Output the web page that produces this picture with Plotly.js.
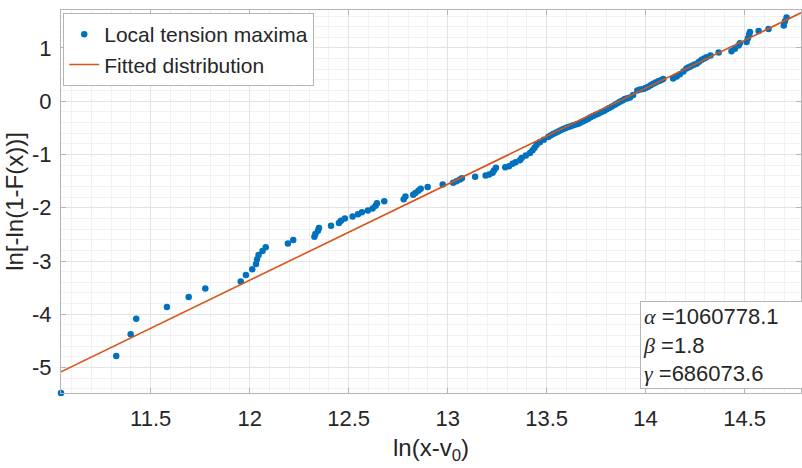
<!DOCTYPE html>
<html>
<head>
<meta charset="utf-8">
<script src="https://cdn.plot.ly/plotly-3.0.1.min.js"></script>
<style>
  html, body { margin: 0; padding: 0; background: #ffffff; }
  #chart { width: 802px; height: 468px; }
</style>
</head>
<body>
<div id="chart"></div>
<script>
// Observed points: x = ln(x - v0), y = ln[-ln(1-F(x))]
var obsX = [
  11.047, 11.326, 11.399, 11.427, 11.582, 11.692, 11.776, 11.955, 11.981, 12.013,
  12.032, 12.037, 12.045, 12.065, 12.081, 12.193, 12.220, 12.327, 12.332, 12.345,
  12.350, 12.411, 12.451, 12.461, 12.481, 12.520, 12.547, 12.567, 12.597, 12.621,
  12.636, 12.643, 12.680, 12.778, 12.787, 12.826, 12.837, 12.852, 12.864, 12.899,
  12.975, 13.028, 13.045, 13.062, 13.072, 13.139, 13.192, 13.210, 13.227, 13.234,
  13.244, 13.291, 13.310, 13.328, 13.343, 13.365, 13.374, 13.395, 13.416, 13.429,
  13.439, 13.449, 13.466, 13.486, 13.508, 13.520, 13.533, 13.546, 13.559, 13.571,
  13.584, 13.597, 13.609, 13.622, 13.634, 13.647, 13.660, 13.672, 13.685, 13.698,
  13.710, 13.722, 13.735, 13.748, 13.761, 13.775, 13.789, 13.802, 13.816, 13.830,
  13.845, 13.858, 13.870, 13.883, 13.895, 13.908, 13.921, 13.937, 13.958, 13.972,
  13.988, 14.000, 14.013, 14.026, 14.038, 14.051, 14.064, 14.077, 14.089, 14.139,
  14.157, 14.173, 14.191, 14.206, 14.218, 14.229, 14.244, 14.258, 14.270, 14.283,
  14.296, 14.308, 14.328, 14.369, 14.434, 14.451, 14.470, 14.476, 14.510, 14.517,
  14.523, 14.527, 14.571, 14.621, 14.698, 14.704, 14.712
];
var obsY = [
  -5.478, -4.785, -4.373, -4.086, -3.861, -3.674, -3.517, -3.386, -3.262, -3.155,
  -3.056, -2.968, -2.888, -2.813, -2.740, -2.672, -2.607, -2.543, -2.491, -2.434,
  -2.382, -2.337, -2.288, -2.243, -2.200, -2.163, -2.120, -2.082, -2.051, -2.013,
  -1.963, -1.914, -1.876, -1.839, -1.788, -1.757, -1.723, -1.682, -1.644, -1.610,
  -1.564, -1.532, -1.502, -1.470, -1.446, -1.419, -1.395, -1.376, -1.345, -1.301,
  -1.251, -1.240, -1.221, -1.176, -1.146, -1.109, -1.064, -1.021, -0.970, -0.921,
  -0.871, -0.820, -0.772, -0.721, -0.670, -0.642, -0.614, -0.590, -0.566, -0.543,
  -0.521, -0.502, -0.483, -0.468, -0.453, -0.437, -0.421, -0.400, -0.378, -0.353,
  -0.328, -0.302, -0.277, -0.256, -0.234, -0.209, -0.184, -0.156, -0.127, -0.097,
  -0.066, -0.038, -0.009, 0.016, 0.041, 0.056, 0.071, 0.116, 0.202, 0.220,
  0.228, 0.250, 0.272, 0.300, 0.328, 0.352, 0.375, 0.396, 0.416, 0.425,
  0.464, 0.506, 0.558, 0.614, 0.637, 0.659, 0.683, 0.706, 0.742, 0.777,
  0.803, 0.828, 0.861, 0.914, 0.940, 0.987, 1.045, 1.090, 1.110, 1.183,
  1.255, 1.301, 1.320, 1.358, 1.423, 1.502, 1.573
];
// Fitted distribution line (end points)
var fitX = [11.047, 14.785];
var fitY = [-5.08, 1.66];
// Axis ticks
var xTicks = [11.5, 12, 12.5, 13, 13.5, 14, 14.5];
var xTickText = ['11.5', '12', '12.5', '13', '13.5', '14', '14.5'];
var yTicks = [-5, -4, -3, -2, -1, 0, 1];
var yTickText = ['-5', '-4', '-3', '-2', '-1', '0', '1'];
// Labels
var seriesNames = ['Local tension maxima', 'Fitted distribution'];
var paramSymbols = ['α', 'β', 'γ'];
var paramValues = ['=1060778.1', '=1.8', '=686073.6'];

var FONT = 'Liberation Sans, Arial, sans-serif';
var TXT = '#262626';
var AXC = '#b4b4b4';

var traces = [
  {
    x: obsX, y: obsY, type: 'scatter', mode: 'markers', name: seriesNames[0],
    marker: { color: '#0072BD', size: 6.5 },
    cliponaxis: false
  },
  {
    x: fitX, y: fitY, type: 'scatter', mode: 'lines', name: seriesNames[1],
    line: { color: '#D95319', width: 1.6 }
  }
];

function axisBase() {
  return {
    showline: true, linecolor: AXC, linewidth: 1, mirror: 'ticks',
    ticks: 'inside', ticklen: 5, tickcolor: AXC, tickwidth: 1,
    showgrid: true, gridcolor: '#e3e3e3', gridwidth: 1,
    zeroline: false,
    tickfont: { family: FONT, size: 22, color: TXT }
  };
}

var xa = axisBase();
xa.range = [11.047, 14.785];
xa.tickvals = xTicks; xa.ticktext = xTickText;
xa.minor = { dtick: 0.1, showgrid: true, gridcolor: '#f1f1f1', gridwidth: 1, ticks: '' };
xa.title = { text: 'ln(x-v<sub>0</sub>)', font: { family: FONT, size: 24, color: TXT }, standoff: 8 };
xa.ticklabelstandoff = 6;

var ya = axisBase();
ya.range = [-5.478, 1.713];
ya.tickvals = yTicks; ya.ticktext = yTickText;
ya.minor = { dtick: 0.2, showgrid: true, gridcolor: '#f1f1f1', gridwidth: 1, ticks: '' };
ya.automargin = true;
ya.title = { text: 'ln[-ln(1-F(x))]', font: { family: FONT, size: 24, color: TXT }, standoff: 1 };
ya.ticklabelstandoff = 4;

var paramText = paramSymbols.map(function (s, i) {
  return '<span style="font-family:Liberation Serif;font-style:italic">' + s + '</span> ' + paramValues[i];
}).join('<br>');

var layout = {
  width: 802, height: 468,
  margin: { l: 61, r: 1, t: 10, b: 75 },
  paper_bgcolor: '#ffffff', plot_bgcolor: '#ffffff',
  font: { family: FONT, color: TXT },
  xaxis: xa, yaxis: ya,
  showlegend: true,
  legend: {
    x: 0.003, y: 0.992, xanchor: 'left', yanchor: 'top',
    bgcolor: '#ffffff', bordercolor: '#b4b4b4', borderwidth: 1,
    font: { family: FONT, size: 21, color: TXT },
    itemwidth: 30, tracegroupgap: 0
  },
  annotations: [{
    xref: 'paper', yref: 'paper', x: 0.7824, y: 0.24,
    xanchor: 'left', yanchor: 'top', align: 'left',
    text: paramText,
    showarrow: false, width: 175,
    font: { family: FONT, size: 22, color: TXT },
    bgcolor: '#ffffff', bordercolor: '#b4b4b4', borderwidth: 1, borderpad: 2
  }]
};

Plotly.newPlot('chart', traces, layout, { displayModeBar: false, staticPlot: true });
</script>
</body>
</html>
